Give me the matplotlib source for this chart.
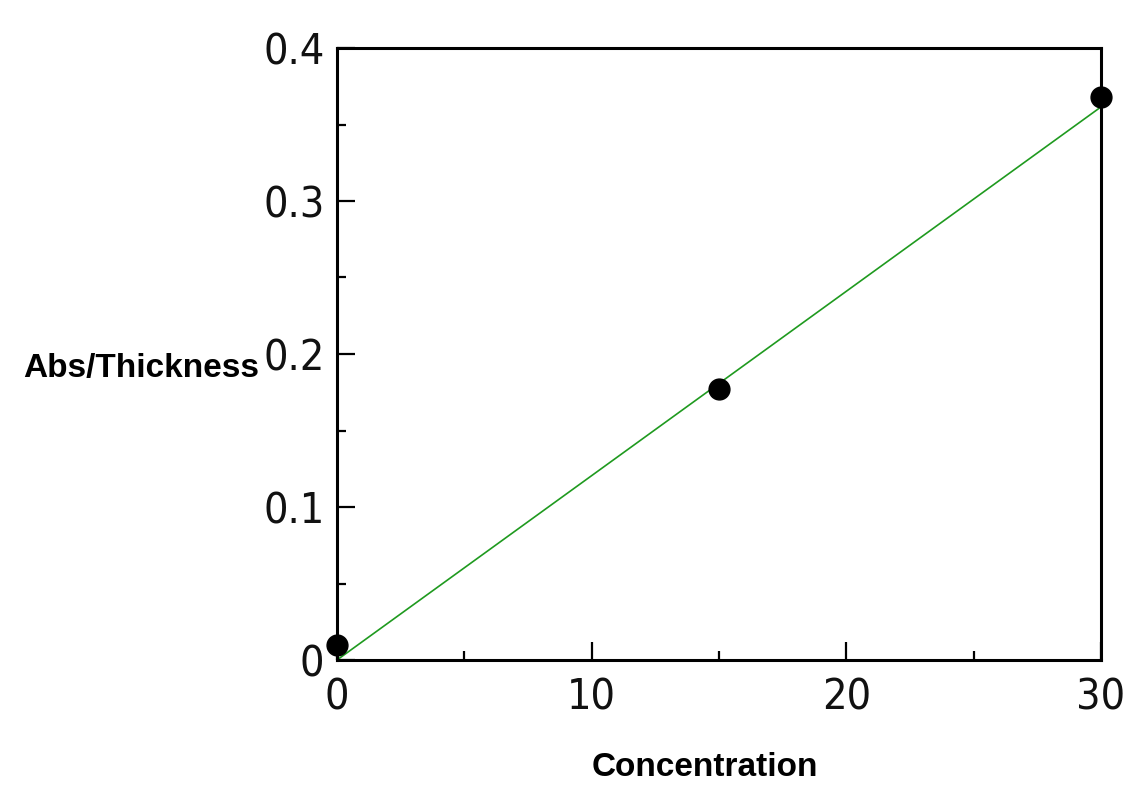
import matplotlib
matplotlib.use("Agg")
import matplotlib.pyplot as plt
from matplotlib.ticker import MultipleLocator, FuncFormatter
from matplotlib import font_manager

conc = [0, 15, 30]
abs_thick = [0.010, 0.177, 0.368]
fit_x = [0, 30]
fit_y = [0.0, 0.3615]
x_major = [0, 10, 20, 30]
y_major = [0.0, 0.1, 0.2, 0.3, 0.4]

cond = [f for f in font_manager.fontManager.ttflist
        if f.name == "DejaVu Sans" and f.stretch == "condensed"
        and f.style == "normal" and f.weight in (400, "normal")]

W, H = 1142, 807
fig = plt.figure(figsize=(W / 100, H / 100), dpi=100)
ax = fig.add_axes([337 / W, 1 - 660 / H, (1101 - 337) / W, (660 - 48) / H])

ax.plot(fit_x, fit_y, color="#1f9a1f", lw=1.2, zorder=2, clip_on=False)
ax.plot(conc, abs_thick, "o", color="black", ms=15, zorder=3, clip_on=False)

ax.set_xlim(0, 30)
ax.set_ylim(0, 0.4)
ax.set_xticks(x_major)
ax.set_yticks(y_major)
ax.xaxis.set_minor_locator(MultipleLocator(5))
ax.yaxis.set_minor_locator(MultipleLocator(0.05))
ax.xaxis.set_major_formatter(FuncFormatter(lambda v, p: "%d" % v))
ax.yaxis.set_major_formatter(FuncFormatter(lambda v, p: "0" if v == 0 else "%.1f" % v))

for s in ax.spines.values():
    s.set_linewidth(2.2)
ax.tick_params(which="both", direction="in", top=False, right=False, width=1.6, color="black")
ax.tick_params(which="major", length=13)
ax.tick_params(which="minor", length=6.5)
ax.tick_params(axis="x", which="major", pad=12)
ax.tick_params(axis="y", which="major", pad=9)
for lab in ax.get_xticklabels() + ax.get_yticklabels():
    if cond:
        lab.set_fontproperties(font_manager.FontProperties(fname=cond[0].fname, size=31))
    else:
        lab.set_fontfamily("DejaVu Sans")
        lab.set_fontsize(29)
    lab.set_color("#111111")

fig.text(23 / W, 1 - 368 / H, "Abs/Thickness", ha="left", va="center",
         fontsize=24, fontweight="bold", family="Liberation Sans")
fig.text(705 / W, 1 - 767 / H, "Concentration", ha="center", va="center",
         fontsize=24, fontweight="bold", family="Liberation Sans")

fig.savefig("out.png", dpi=100, facecolor="white")
